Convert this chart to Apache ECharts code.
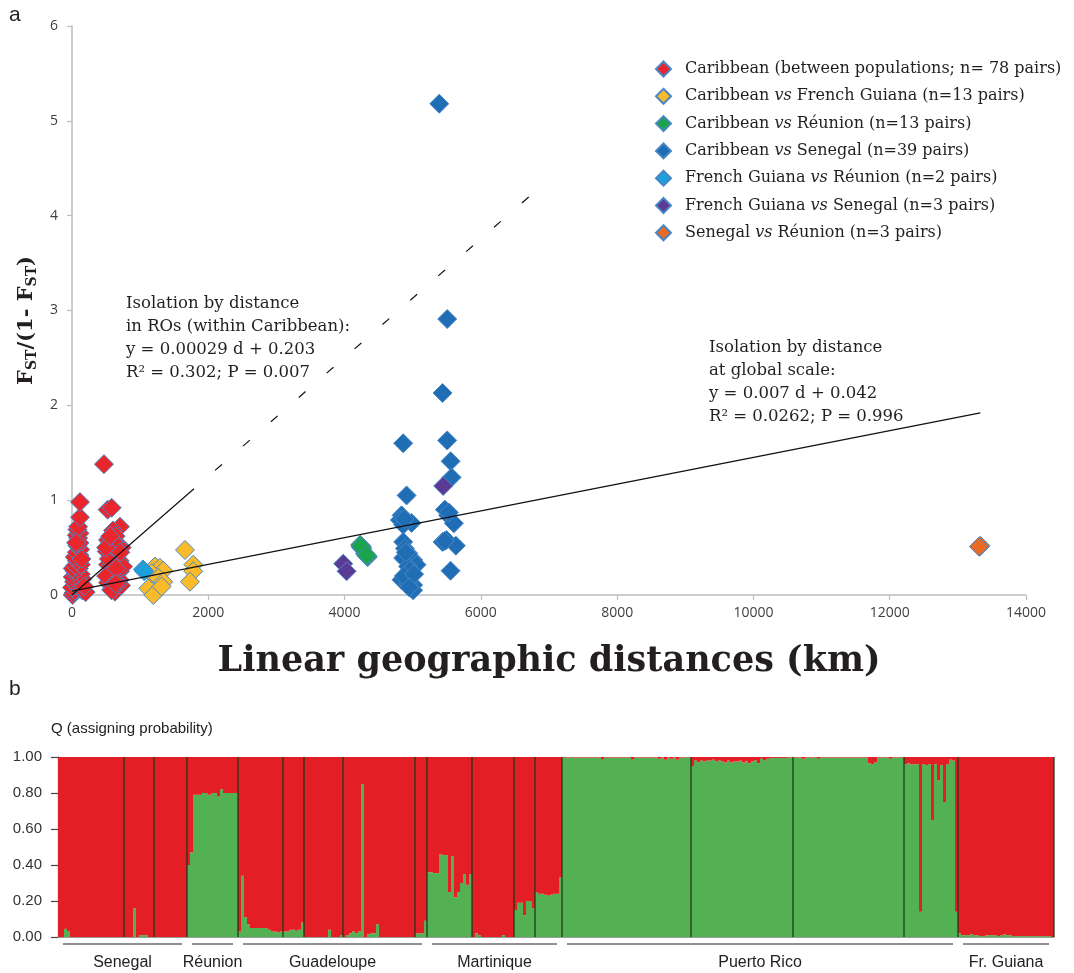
<!DOCTYPE html>
<html><head><meta charset="utf-8">
<script src="https://cdn.jsdelivr.net/npm/echarts@6/dist/echarts.min.js"></script>
<style>html,body{margin:0;padding:0;background:#fff}#c{width:1074px;height:973px}</style>
</head><body><div id="c"></div>
<script>
// ---------- Panel a data: [distance km, FST/(1-FST)] ----------
const caribbean = [[10,0.0],[20,0.02],[40,0.05],[0,0.08],[60,0.1],[120,0.12],[30,0.14],[90,0.15],[150,0.17],[10,0.19],[60,0.21],[130,0.22],[40,0.25],[10,0.28],[100,0.28],[50,0.31],[130,0.32],[70,0.36],[40,0.4],[110,0.42],[70,0.45],[120,0.48],[80,0.52],[110,0.55],[90,0.6],[70,0.63],[110,0.65],[80,0.69],[90,0.72],[117,0.82],[117,0.98],[150,0.05],[200,0.03],[180,0.09],[140,0.38],[60,0.55],
  [469,1.38],[523,0.90],[582,0.92],[704,0.72],[601,0.68],[640,0.62],[528,0.58],[560,0.55],[729,0.5],[680,0.52],[509,0.46],[600,0.44],[650,0.42],[601,0.40],[700,0.36],[528,0.32],[675,0.34],[560,0.3],[620,0.27],[704,0.25],[557,0.23],[640,0.2],[528,0.13],[600,0.15],[700,0.16],[655,0.09],[580,0.06],[630,0.035],[720,0.1],[500,0.2],[750,0.3],[540,0.38],[620,0.5],[680,0.12],[590,0.1],[610,0.56],[500,0.5],[560,0.62],[710,0.45],[650,0.28],[580,0.05],[640,0.12]];
const caribVsGuiana = [[1658,0.475],[1218,0.30],[1291,0.285],[1340,0.257],[1169,0.23],[1266,0.18],[1340,0.14],[1120,0.07],[1193,0.0],[1315,0.09],[1780,0.32],[1780,0.25],[1731,0.14]];
const caribVsReunion = [[4235,0.52],[4333,0.41],[4240,0.5],[4320,0.42],[4250,0.51],[4300,0.44],[4340,0.4],[4230,0.53],[4310,0.43],[4260,0.49],[4330,0.41],[4245,0.51],[4325,0.42]];
const caribVsSenegal = [[5389,5.18],[5506,2.91],[5438,2.13],[4860,1.60],[5506,1.63],[5556,1.41],[5570,1.24],[4910,1.05],[4836,0.84],[4812,0.79],[4983,0.76],[4860,0.74],[5472,0.90],[5520,0.84],[5604,0.756],[5438,0.56],[5496,0.58],[5633,0.52],[4860,0.56],[4885,0.49],[4934,0.44],[4860,0.39],[5006,0.37],[5056,0.32],[4934,0.30],[5555,0.256],[4836,0.16],[4958,0.19],[5006,0.105],[4934,0.12],[5006,0.05],[4880,0.80],[4900,0.45],[4960,0.26],[4870,0.2],[5020,0.22],[4950,0.08],[5470,0.57],[5530,0.87]];
const guianaVsReunion = [[1040,0.27],[1060,0.25]];
const guianaVsSenegal = [[3980,0.33],[4030,0.25],[5447,1.15]];
const senegalVsReunion = [[13320,0.51],[13330,0.52],[13310,0.51]];

const seriesNames = ['Caribbean (between populations; n= 78 pairs)','Caribbean vs French Guiana (n=13 pairs)','Caribbean vs Réunion (n=13 pairs)','Caribbean vs Senegal (n=39 pairs)','French Guiana vs Réunion (n=2 pairs)','French Guiana vs Senegal (n=3 pairs)','Senegal vs Réunion (n=3 pairs)'];
const seriesData = [caribbean, caribVsGuiana, caribVsReunion, caribVsSenegal, guianaVsReunion, guianaVsSenegal, senegalVsReunion];
const seriesColors = ['#e8262b','#f9bb2a','#1aa54b','#1f6db5','#1ba0dc','#5b3a96','#e86a24'];

// regression lines (endpoints in data units)
const globalFit = [[0,0.04],[13330,1.92]];
const caribFitSolid = [[0,0],[1790,1.12]];
const caribFitDashed = [[1790,1.12],[6900,4.32]];

const xTicksA = [0,2000,4000,6000,8000,10000,12000,14000];
const yTicksA = [0,1,2,3,4,5,6];

// ---------- Panel b data: Q (green cluster) per individual ----------
const senegal1 = [0,0,0.045,0.03,0,0,0,0,0,0,0,0,0,0,0,0,0,0,0,0,0,0];
const senegal2 = [0,0,0,0.16,0,0.01,0.01,0.01,0,0];
const senegal3 = [0,0,0,0,0,0,0,0,0,0,0];
const reunion = [0.40,0.47,0.79,0.79,0.79,0.80,0.80,0.79,0.80,0.80,0.78,0.82,0.80,0.80,0.80,0.80,0.80];
const guad1 = [0.03,0.34,0.11,0.07,0.05,0.05,0.05,0.05,0.05,0.05,0.04,0.03,0.03,0.025,0.03];
const guad2 = [0.03,0.03,0.04,0.04,0.035,0.04,0.08];
const guad3 = [0,0,0,0,0,0,0,0,0.04,0,0,0,0.01];
const guad4 = [0,0.01,0.02,0.03,0.02,0.03,0.85,0,0.015,0.02,0.02,0.07,0,0,0,0,0,0,0,0,0,0,0,0];
const guad5 = [0.02,0.02,0.02,0.09];
const mart1 = [0.36,0.36,0.355,0.355,0.46,0.455,0.455,0.25,0.45,0.22,0.25,0.30,0.35,0.29,0.35];
const mart2 = [0,0.02,0.01,0,0,0,0,0,0,0,0.01,0,0,0];
const mart3 = [0.15,0.19,0.19,0.12,0.20,0.20,0.16];
const mart4 = [0.25,0.24,0.24,0.235,0.23,0.235,0.24,0.24,0.33];
const pr1 = [0.997,0.997,0.997,0.997,0.997,0.997,0.997,0.997,0.997,0.997,
  0.997,0.997,0.997,0.985,0.997,0.997,0.997,0.997,0.997,0.997,
  0.997,0.997,0.997,0.985,0.997,0.997,0.997,0.997,0.997,0.997,
  0.997,0.997,0.99,0.997,0.985,0.997,0.99,0.997,0.985,0.997,
  0.997,0.997,0.997];
const pr2 = [0.95,0.98,0.97,0.98,0.975,0.98,0.98,0.985,0.975,0.98,
  0.975,0.97,0.98,0.97,0.975,0.975,0.98,0.97,0.975,0.965,
  0.975,0.98,0.965,0.99,0.98,0.99,0.995,0.995,0.995,0.995,
  0.995,0.995,0.997,0.997];
const pr3 = [0.997,0.997,0.997,0.99,0.997,0.997,0.997,0.997,0.99,0.997,
  0.997,0.997,0.997,0.997,0.997,0.997,0.997,0.997,0.997,0.997,
  0.997,0.997,0.997,0.997,0.997,0.965,0.96,0.97,0.997,0.997,
  0.997,0.997,0.99,0.997,0.997,0.997,0.997];
const pr4 = [0.96,0.965,0.96,0.96,0.96,0.14,0.96,0.955,0.96,0.65,0.96,0.87,0.955,0.75,0.96,0.985,0.98,0.14];
const fg = [0.02,0.01,0.01,0.01,0.015,0.01,0.01,0.005,0.005,0.01,0.01,0.01,0.01,0.005,0.01,0.015,0.01,0.01,0.005,0.005,0.005,0.005,0.005,0.005,0.005,0.005,0.005,0.005,0.005,0.005,0.005,0.0];

const subsamples = [senegal1,senegal2,senegal3,reunion,guad1,guad2,guad3,guad4,guad5,mart1,mart2,mart3,mart4,pr1,pr2,pr3,pr4,fg];
const popOfSub = [0,0,0,1,2,2,2,2,2,3,3,3,3,4,4,4,4,5];
const popNames = ['Senegal','Réunion','Guadeloupe','Martinique','Puerto Rico','Fr. Guiana'];
const yTicksB = [0,0.2,0.4,0.6,0.8,1.0];

// ---------- build ----------
const green = [].concat(...subsamples);
const red = green.map(v => +(1 - v).toFixed(4));
const cats = green.map((v,i) => 'ind' + i);
const boundaries = []; let acc = 0;
subsamples.forEach((s,i) => { acc += s.length; boundaries.push([acc, 0]); });
const popRanges = popNames.map(() => [Infinity, -Infinity, 0]);
acc = 0;
subsamples.forEach((s,i) => { const p = popOfSub[i]; popRanges[p][0] = Math.min(popRanges[p][0], acc); popRanges[p][1] = Math.max(popRanges[p][1], acc + s.length - 1); acc += s.length; });

const serif = 'DejaVu Serif';
const GREEN = '#54b153', RED = '#e31e24';
const chart = echarts.init(document.getElementById('c'), null, {renderer:'canvas'});

const scatterSeries = seriesNames.map((n,i) => ({
  name: n, type:'scatter', xAxisIndex:0, yAxisIndex:0, data: seriesData[i],
  symbol:'diamond', symbolSize:19,
  itemStyle:{color:seriesColors[i], borderColor:'#4a86c5', borderWidth:1, opacity:1},
  z: 3
}));

const option = {
  animation:false,
  textStyle:{fontFamily:'Liberation Sans'},
  grid:[
    {left:72, right:48, top:26, bottom:378},
    {left:58, right:1074 - 58 - green.length * 3, top:757, bottom:36}
  ],
  legend:{
    data: seriesNames, orient:'vertical', left:650, top:54,
    icon:'diamond', itemWidth:15, itemHeight:15, itemGap:7.3,
    textStyle:{fontFamily:serif, fontSize:16, color:'#231f20', lineHeight:20, padding:[0,0,0,9],
      rich:{i:{fontFamily:serif, fontSize:16, fontStyle:'italic', color:'#231f20'}}},
    formatter: n => n.split(' vs ').join(' {i|vs} ')
  },
  xAxis:[
    {type:'value', gridIndex:0, min:0, max:14000, interval:2000,
     name:'Linear geographic distances (km)', nameLocation:'middle', nameGap:49,
     nameTextStyle:{fontFamily:serif, fontWeight:'bold', fontSize:35, color:'#231f20'},
     axisLine:{show:true, lineStyle:{color:'#bdbdbd', width:1.5}},
     axisTick:{show:true, length:5, lineStyle:{color:'#bdbdbd', width:1.2}},
     axisLabel:{fontFamily:'Open Sans', fontSize:14, color:'#404040', margin:11, formatter: v => String(v)},
     splitLine:{show:false}},
    {type:'category', gridIndex:1, data:cats, boundaryGap:true,
     axisLine:{show:true, lineStyle:{color:'#9a9a9a', width:1.2}},
     axisTick:{show:false}, axisLabel:{show:false}, splitLine:{show:false}}
  ],
  yAxis:[
    {type:'value', gridIndex:0, min:0, max:6, interval:1,
     name:'{b|F}{s|ST}{b|/(1- F}{s|ST}{b|)}', nameLocation:'middle', nameGap:29, nameRotate:90,
     nameTextStyle:{padding:[0,20,0,0], rich:{
       b:{fontFamily:serif, fontWeight:'bold', fontSize:21, color:'#231f20', lineHeight:26, verticalAlign:'middle'},
       s:{fontFamily:serif, fontWeight:'bold', fontSize:14, color:'#231f20', lineHeight:14, verticalAlign:'bottom'}}},
     axisLine:{show:true, lineStyle:{color:'#bdbdbd', width:1.5}},
     axisTick:{show:true, length:5, lineStyle:{color:'#bdbdbd', width:1.2}},
     axisLabel:{fontFamily:'Open Sans', fontSize:14, color:'#404040', margin:14, formatter: v => String(v)},
     splitLine:{show:false}},
    {type:'value', gridIndex:1, min:0, max:1, interval:0.2,
     axisLine:{show:true, lineStyle:{color:'#222', width:1.2}},
     axisTick:{show:true, length:7, lineStyle:{color:'#444', width:1.2}},
     axisLabel:{fontFamily:'Liberation Sans', fontSize:15, color:'#333', margin:16, formatter: v => v.toFixed(2)},
     splitLine:{show:false}}
  ],
  graphic:[
    {type:'text', left:9, top:5, style:{text:'a', font:'21px "Liberation Sans"', fill:'#231f20'}},
    {type:'text', left:9, top:679, style:{text:'b', font:'21px "Liberation Sans"', fill:'#231f20'}},
    {type:'text', left:51, top:721, style:{text:'Q (assigning probability)', font:'15px "Liberation Sans"', fill:'#222'}},
    {type:'text', left:126, top:292, style:{text:'Isolation by distance\nin ROs (within Caribbean):\ny = 0.00029 d + 0.203\nR² = 0.302; P = 0.007', font:'16.5px "DejaVu Serif"', lineHeight:23, fill:'#231f20'}},
    {type:'text', left:709, top:336, style:{text:'Isolation by distance\nat global scale:\ny = 0.007 d + 0.042\nR² = 0.0262; P = 0.996', font:'16.5px "DejaVu Serif"', lineHeight:23, fill:'#231f20'}}
  ],
  series:[
    ...scatterSeries,
    {type:'line', xAxisIndex:0, yAxisIndex:0, data:globalFit, symbol:'none', lineStyle:{color:'#111', width:1.2}, z:4, silent:true},
    {type:'line', xAxisIndex:0, yAxisIndex:0, data:caribFitSolid, symbol:'none', lineStyle:{color:'#111', width:1.2}, z:4, silent:true},
    {type:'line', xAxisIndex:0, yAxisIndex:0, data:caribFitDashed, symbol:'none', lineStyle:{color:'#111', width:1.2, type:[9,28], dashOffset:9}, z:4, silent:true},
    {type:'bar', xAxisIndex:1, yAxisIndex:1, data:green, stack:'q', barWidth:'100%', barCategoryGap:'0%', itemStyle:{color:GREEN}, silent:true},
    {type:'bar', xAxisIndex:1, yAxisIndex:1, data:red, stack:'q', barWidth:'100%', barCategoryGap:'0%', itemStyle:{color:RED}, silent:true},
    {type:'custom', xAxisIndex:1, yAxisIndex:1, data:boundaries, encode:{x:0, y:1}, z:5, silent:true,
     renderItem:(params, api) => {
       const b = api.value(0); const bw = api.size([1,0])[0];
       const x = api.coord([b,0])[0] - bw/2;
       const y0 = api.coord([b,0])[1], y1 = api.coord([b,1])[1];
       return {type:'line', shape:{x1:x, y1:y0, x2:x, y2:y1}, style:{stroke:'#1e3a1e', lineWidth:1.3}};
     }},
    {type:'custom', xAxisIndex:1, yAxisIndex:1, data:popRanges, encode:{x:0, y:2}, z:5, silent:true, clip:false,
     renderItem:(params, api) => {
       const s = api.value(0), e = api.value(1); const bw = api.size([1,0])[0];
       const x0 = api.coord([s,0])[0] - bw/2 + 5, x1 = api.coord([e,0])[0] + bw/2 - 5;
       const y = api.coord([s,0])[1];
       return {type:'group', children:[
         {type:'line', shape:{x1:x0, y1:y+7, x2:x1, y2:y+7}, style:{stroke:'#222', lineWidth:1.2}},
         {type:'text', style:{text:popNames[params.dataIndex], x:(x0+x1)/2, y:y+26, align:'center', verticalAlign:'middle', font:'16px "Liberation Sans"', fill:'#222'}}
       ]};
     }}
  ]
};
chart.setOption(option);
</script></body></html>
